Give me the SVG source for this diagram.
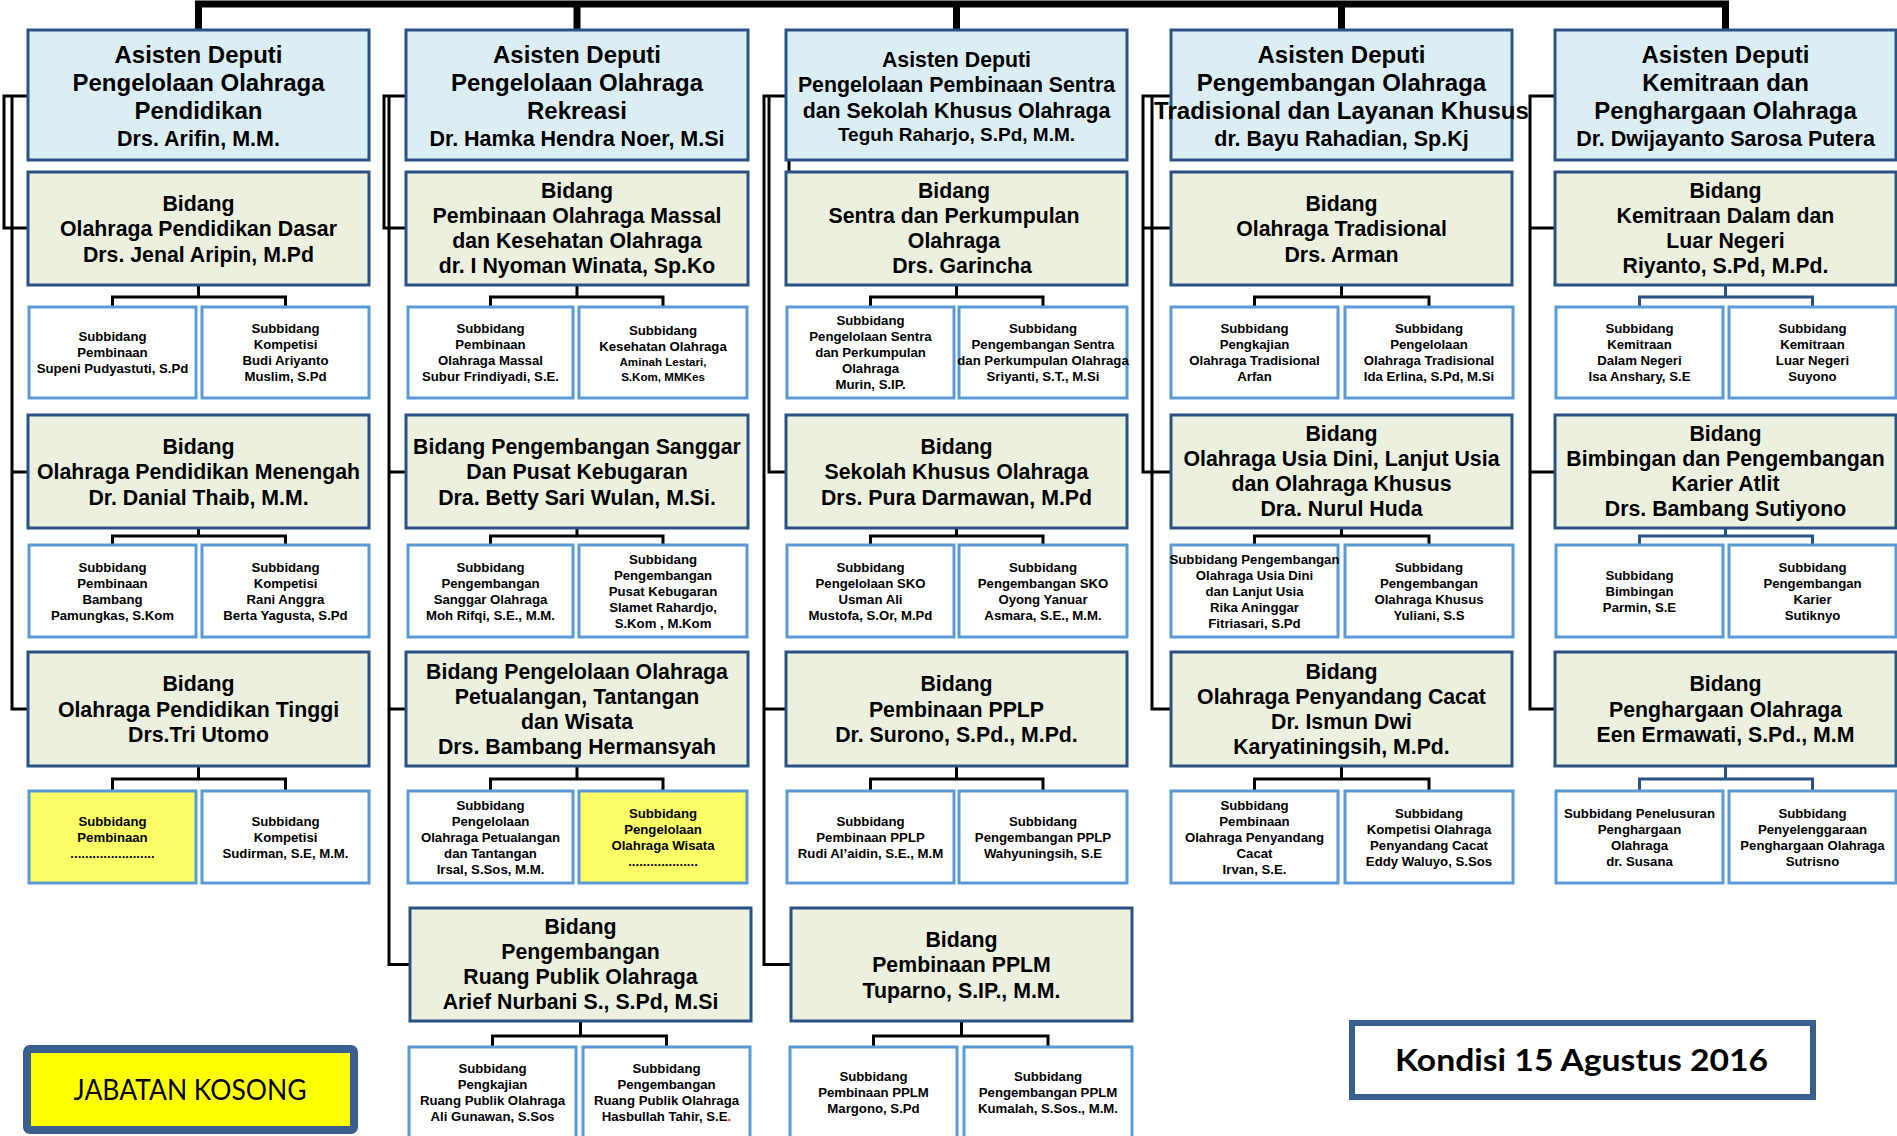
<svg xmlns="http://www.w3.org/2000/svg" width="1897" height="1136" viewBox="0 0 1897 1136">
<style>
.bg{fill:#fff}
.ad{fill:#DBEEF4;stroke:#2A5285;stroke-width:3}
.bd{fill:#EBF1DE;stroke:#2A5285;stroke-width:3}
.sb{fill:#fff;stroke:#5B9BD5;stroke-width:3}
.sy{fill:#FFFF66;stroke:#5B9BD5;stroke-width:3}
.cn{fill:none;stroke:#000;stroke-width:3}
.cb{fill:none;stroke:#2A5285;stroke-width:3}
.bus{fill:none;stroke:#000;stroke-width:7}
text{font-family:"Liberation Sans",Arial,sans-serif;font-weight:bold;text-anchor:middle;fill:#000}
.t24{font-size:24px}
.t21{font-size:21.3px}
.n{font-size:21.5px}
.n19{font-size:19px}
.ts{font-size:13.2px}
.tc{font-size:11.6px}
.red{fill:#FF0000}
.cal{font-family:Lato,"Open Sans",sans-serif}
</style>
<rect class="bg" x="0" y="0" width="1897" height="1136"/>

<g id="connectors">
<path class="bus" d="M195,4 H1729 M198.5,1 V30 M577,1 V30 M956.5,1 V30 M1341.5,1 V30 M1725.5,1 V30"/>
<path class="cn" d="M28,96 H4 V228 H28 M12,96 V709 H28 M12,472 H28"/>
<path class="cn" d="M406,96 H384 V228 H406 M389,96 V964.5 H410 M389,472 H406 M389,709 H406"/>
<path class="cn" d="M786,96 H764 V964.5 H791 M764,709 H786 M769,96 V472 H786 M789,160 V172"/>
<path class="cn" d="M1171,96 H1143 V472 H1171 M1143,228 H1171 M1152,96 V709 H1171"/>
<path class="cn" d="M1555,96 H1530 V709 H1555 M1530,228 H1555 M1530,472 H1555"/>
<path class="cn" d="M112.5,307 V297 H285.5 V307 M198.5,285 V297 M112.5,545 V536 H285.5 V545 M198.5,528 V536 M112.5,791 V779 H285.5 V791 M198.5,766 V779"/>
<path class="cn" d="M490.5,307 V297 H663 V307 M577,285 V297 M490.5,545 V536 H663 V545 M577,528 V536 M490.5,791 V779 H663 V791 M577,766 V779 M492.5,1047 V1036 H666.5 V1047 M580.5,1021 V1036"/>
<path class="cn" d="M870.5,307 V297 H1043 V307 M956.5,285 V297 M870.5,545 V536 H1043 V545 M956.5,528 V536 M870.5,791 V779 H1043 V791 M956.5,766 V779 M873.5,1047 V1036 H1048 V1047 M961.5,1021 V1036"/>
<path class="cn" d="M1254.5,307 V297 H1429 V307 M1341.5,285 V297 M1254.5,545 V536 H1429 V545 M1341.5,528 V536 M1254.5,791 V779 H1429 V791 M1341.5,766 V779"/>
<path class="cb" d="M1639.5,307 V297 H1812.5 V307 M1725.5,285 V297 M1639.5,545 V536 H1812.5 V545 M1725.5,528 V536 M1639.5,791 V779 H1812.5 V791 M1725.5,766 V779"/>
</g>

<!-- Column 1 -->
<g id="ad1"><rect class="ad" x="28" y="30" width="341" height="130"/>
<text class="t24"><tspan x="198.5" y="63">Asisten Deputi</tspan><tspan x="198.5" y="91">Pengelolaan Olahraga</tspan><tspan x="198.5" y="119">Pendidikan</tspan><tspan class="n" x="198.5" y="146">Drs. Arifin, M.M.</tspan></text></g>
<g id="b1-1"><rect class="bd" x="28" y="172" width="341" height="113"/>
<text class="t21"><tspan x="198.5" y="210.5">Bidang</tspan><tspan x="198.5" y="236">Olahraga Pendidikan Dasar</tspan><tspan x="198.5" y="261.5">Drs. Jenal Aripin, M.Pd</tspan></text></g>
<g id="s1-1a"><rect class="sb" x="29" y="307" width="167" height="91"/>
<text class="ts"><tspan x="112.5" y="341.1">Subbidang</tspan><tspan x="112.5" y="357.1">Pembinaan</tspan><tspan x="112.5" y="373.1">Supeni Pudyastuti, S.Pd</tspan></text></g>
<g id="s1-1b"><rect class="sb" x="202" y="307" width="167" height="91"/>
<text class="ts"><tspan x="285.5" y="333.1">Subbidang</tspan><tspan x="285.5" y="349.1">Kompetisi</tspan><tspan x="285.5" y="365.1">Budi Ariyanto</tspan><tspan x="285.5" y="381.1">Muslim, S.Pd</tspan></text></g>
<g id="b1-2"><rect class="bd" x="28" y="415" width="341" height="113"/>
<text class="t21"><tspan x="198.5" y="453.5">Bidang</tspan><tspan x="198.5" y="479">Olahraga Pendidikan Menengah</tspan><tspan x="198.5" y="504.5">Dr. Danial Thaib, M.M.</tspan></text></g>
<g id="s1-2a"><rect class="sb" x="29" y="545" width="167" height="92"/>
<text class="ts"><tspan x="112.5" y="571.6">Subbidang</tspan><tspan x="112.5" y="587.6">Pembinaan</tspan><tspan x="112.5" y="603.6">Bambang</tspan><tspan x="112.5" y="619.6">Pamungkas, S.Kom</tspan></text></g>
<g id="s1-2b"><rect class="sb" x="202" y="545" width="167" height="92"/>
<text class="ts"><tspan x="285.5" y="571.6">Subbidang</tspan><tspan x="285.5" y="587.6">Kompetisi</tspan><tspan x="285.5" y="603.6">Rani Anggra</tspan><tspan x="285.5" y="619.6">Berta Yagusta, S.Pd</tspan></text></g>
<g id="b1-3"><rect class="bd" x="28" y="652" width="341" height="114"/>
<text class="t21"><tspan x="198.5" y="691">Bidang</tspan><tspan x="198.5" y="716.5">Olahraga Pendidikan Tinggi</tspan><tspan x="198.5" y="742">Drs.Tri Utomo</tspan></text></g>
<g id="s1-3a"><rect class="sy" x="29" y="791" width="167" height="92"/>
<text class="ts"><tspan x="112.5" y="825.6">Subbidang</tspan><tspan x="112.5" y="841.6">Pembinaan</tspan><tspan x="112.5" y="857.6">.......................</tspan></text></g>
<g id="s1-3b"><rect class="sb" x="202" y="791" width="167" height="92"/>
<text class="ts"><tspan x="285.5" y="825.6">Subbidang</tspan><tspan x="285.5" y="841.6">Kompetisi</tspan><tspan x="285.5" y="857.6">Sudirman, S.E, M.M.</tspan></text></g>

<!-- Column 2 -->
<g id="ad2"><rect class="ad" x="406" y="30" width="342" height="130"/>
<text class="t24"><tspan x="577" y="63">Asisten Deputi</tspan><tspan x="577" y="91">Pengelolaan Olahraga</tspan><tspan x="577" y="119">Rekreasi</tspan><tspan class="n" x="577" y="146">Dr. Hamka Hendra Noer, M.Si</tspan></text></g>
<g id="b2-1"><rect class="bd" x="406" y="172" width="342" height="113"/>
<text class="t21"><tspan x="577" y="198">Bidang</tspan><tspan x="577" y="223">Pembinaan Olahraga Massal</tspan><tspan x="577" y="248">dan Kesehatan Olahraga</tspan><tspan x="577" y="273">dr. I Nyoman Winata, Sp.Ko</tspan></text></g>
<g id="s2-1a"><rect class="sb" x="408" y="307" width="165" height="91"/>
<text class="ts"><tspan x="490.5" y="333.1">Subbidang</tspan><tspan x="490.5" y="349.1">Pembinaan</tspan><tspan x="490.5" y="365.1">Olahraga Massal</tspan><tspan x="490.5" y="381.1">Subur Frindiyadi, S.E.</tspan></text></g>
<g id="s2-1b"><rect class="sb" x="579" y="307" width="168" height="91"/>
<text class="ts"><tspan x="663" y="335.1">Subbidang</tspan><tspan x="663" y="351.1">Kesehatan Olahraga</tspan><tspan class="tc" x="663" y="366.1">Aminah Lestari,</tspan><tspan class="tc" x="663" y="381.1">S.Kom, MMKes</tspan></text></g>
<g id="b2-2"><rect class="bd" x="406" y="415" width="342" height="113"/>
<text class="t21"><tspan x="577" y="453.5">Bidang Pengembangan Sanggar</tspan><tspan x="577" y="479">Dan Pusat Kebugaran</tspan><tspan x="577" y="504.5">Dra. Betty Sari Wulan, M.Si.</tspan></text></g>
<g id="s2-2a"><rect class="sb" x="408" y="545" width="165" height="92"/>
<text class="ts"><tspan x="490.5" y="571.6">Subbidang</tspan><tspan x="490.5" y="587.6">Pengembangan</tspan><tspan x="490.5" y="603.6">Sanggar Olahraga</tspan><tspan x="490.5" y="619.6">Moh Rifqi, S.E., M.M.</tspan></text></g>
<g id="s2-2b"><rect class="sb" x="579" y="545" width="168" height="92"/>
<text class="ts"><tspan x="663" y="563.6">Subbidang</tspan><tspan x="663" y="579.6">Pengembangan</tspan><tspan x="663" y="595.6">Pusat Kebugaran</tspan><tspan x="663" y="611.6">Slamet Rahardjo,</tspan><tspan x="663" y="627.6">S.Kom , M.Kom</tspan></text></g>
<g id="b2-3"><rect class="bd" x="406" y="652" width="342" height="114"/>
<text class="t21"><tspan x="577" y="678.5">Bidang Pengelolaan Olahraga</tspan><tspan x="577" y="703.5">Petualangan, Tantangan</tspan><tspan x="577" y="728.5">dan Wisata</tspan><tspan x="577" y="753.5">Drs. Bambang Hermansyah</tspan></text></g>
<g id="s2-3a"><rect class="sb" x="408" y="791" width="165" height="92"/>
<text class="ts"><tspan x="490.5" y="809.6">Subbidang</tspan><tspan x="490.5" y="825.6">Pengelolaan</tspan><tspan x="490.5" y="841.6">Olahraga Petualangan</tspan><tspan x="490.5" y="857.6">dan Tantangan</tspan><tspan x="490.5" y="873.6">Irsal, S.Sos, M.M.</tspan></text></g>
<g id="s2-3b"><rect class="sy" x="579" y="791" width="168" height="92"/>
<text class="ts"><tspan x="663" y="817.6">Subbidang</tspan><tspan x="663" y="833.6">Pengelolaan</tspan><tspan x="663" y="849.6">Olahraga Wisata</tspan><tspan x="663" y="865.6">...................</tspan></text></g>
<g id="b2-4"><rect class="bd" x="410" y="908" width="341" height="113"/>
<text class="t21"><tspan x="580.5" y="934">Bidang</tspan><tspan x="580.5" y="959">Pengembangan</tspan><tspan x="580.5" y="984">Ruang Publik Olahraga</tspan><tspan x="580.5" y="1009">Arief Nurbani S., S.Pd, M.Si</tspan></text></g>
<g id="s2-4a"><rect class="sb" x="409" y="1047" width="167" height="92"/>
<text class="ts"><tspan x="492.5" y="1072.6">Subbidang</tspan><tspan x="492.5" y="1088.6">Pengkajian</tspan><tspan x="492.5" y="1104.6">Ruang Publik Olahraga</tspan><tspan x="492.5" y="1120.6">Ali Gunawan, S.Sos</tspan></text></g>
<g id="s2-4b"><rect class="sb" x="583" y="1047" width="167" height="92"/>
<text class="ts"><tspan x="666.5" y="1072.6">Subbidang</tspan><tspan x="666.5" y="1088.6">Pengembangan</tspan><tspan x="666.5" y="1104.6">Ruang Publik Olahraga</tspan><tspan x="666.5" y="1120.6">Hasbullah Tahir, S.E<tspan class="red">.</tspan></tspan></text></g>

<!-- Column 3 -->
<g id="ad3"><rect class="ad" x="786" y="30" width="341" height="130"/>
<text class="t21"><tspan x="956.5" y="67">Asisten Deputi</tspan><tspan x="956.5" y="92">Pengelolaan Pembinaan Sentra</tspan><tspan x="956.5" y="118">dan Sekolah Khusus Olahraga</tspan><tspan class="n19" x="956.5" y="141">Teguh Raharjo, S.Pd, M.M.</tspan></text></g>
<g id="b3-1"><rect class="bd" x="786" y="172" width="341" height="113"/>
<text class="t21"><tspan x="954" y="198">Bidang</tspan><tspan x="954" y="223">Sentra dan Perkumpulan</tspan><tspan x="954" y="248">Olahraga</tspan><tspan x="962" y="273">Drs. Garincha</tspan></text></g>
<g id="s3-1a"><rect class="sb" x="787" y="307" width="167" height="91"/>
<text class="ts"><tspan x="870.5" y="325.1">Subbidang</tspan><tspan x="870.5" y="341.1">Pengelolaan Sentra</tspan><tspan x="870.5" y="357.1">dan Perkumpulan</tspan><tspan x="870.5" y="373.1">Olahraga</tspan><tspan x="870.5" y="389.1">Murin, S.IP.</tspan></text></g>
<g id="s3-1b"><rect class="sb" x="959" y="307" width="168" height="91"/>
<text class="ts"><tspan x="1043" y="333.1">Subbidang</tspan><tspan x="1043" y="349.1">Pengembangan Sentra</tspan><tspan x="1043" y="365.1">dan Perkumpulan Olahraga</tspan><tspan x="1043" y="381.1">Sriyanti, S.T., M.Si</tspan></text></g>
<g id="b3-2"><rect class="bd" x="786" y="415" width="341" height="113"/>
<text class="t21"><tspan x="956.5" y="453.5">Bidang</tspan><tspan x="956.5" y="479">Sekolah Khusus Olahraga</tspan><tspan x="956.5" y="504.5">Drs. Pura Darmawan, M.Pd</tspan></text></g>
<g id="s3-2a"><rect class="sb" x="787" y="545" width="167" height="92"/>
<text class="ts"><tspan x="870.5" y="571.6">Subbidang</tspan><tspan x="870.5" y="587.6">Pengelolaan SKO</tspan><tspan x="870.5" y="603.6">Usman Ali</tspan><tspan x="870.5" y="619.6">Mustofa, S.Or, M.Pd</tspan></text></g>
<g id="s3-2b"><rect class="sb" x="959" y="545" width="168" height="92"/>
<text class="ts"><tspan x="1043" y="571.6">Subbidang</tspan><tspan x="1043" y="587.6">Pengembangan SKO</tspan><tspan x="1043" y="603.6">Oyong Yanuar</tspan><tspan x="1043" y="619.6">Asmara, S.E., M.M.</tspan></text></g>
<g id="b3-3"><rect class="bd" x="786" y="652" width="341" height="114"/>
<text class="t21"><tspan x="956.5" y="691">Bidang</tspan><tspan x="956.5" y="716.5">Pembinaan PPLP</tspan><tspan x="956.5" y="742">Dr. Surono, S.Pd., M.Pd.</tspan></text></g>
<g id="s3-3a"><rect class="sb" x="787" y="791" width="167" height="92"/>
<text class="ts"><tspan x="870.5" y="825.6">Subbidang</tspan><tspan x="870.5" y="841.6">Pembinaan PPLP</tspan><tspan x="870.5" y="857.6">Rudi Al’aidin, S.E., M.M</tspan></text></g>
<g id="s3-3b"><rect class="sb" x="959" y="791" width="168" height="92"/>
<text class="ts"><tspan x="1043" y="825.6">Subbidang</tspan><tspan x="1043" y="841.6">Pengembangan PPLP</tspan><tspan x="1043" y="857.6">Wahyuningsih, S.E</tspan></text></g>
<g id="b3-4"><rect class="bd" x="791" y="908" width="341" height="113"/>
<text class="t21"><tspan x="961.5" y="946.5">Bidang</tspan><tspan x="961.5" y="972">Pembinaan PPLM</tspan><tspan x="961.5" y="997.5">Tuparno, S.IP., M.M.</tspan></text></g>
<g id="s3-4a"><rect class="sb" x="790" y="1047" width="167" height="92"/>
<text class="ts"><tspan x="873.5" y="1080.6">Subbidang</tspan><tspan x="873.5" y="1096.6">Pembinaan PPLM</tspan><tspan x="873.5" y="1112.6">Margono, S.Pd</tspan></text></g>
<g id="s3-4b"><rect class="sb" x="964" y="1047" width="168" height="92"/>
<text class="ts"><tspan x="1048" y="1080.6">Subbidang</tspan><tspan x="1048" y="1096.6">Pengembangan PPLM</tspan><tspan x="1048" y="1112.6">Kumalah, S.Sos., M.M.</tspan></text></g>

<!-- Column 4 -->
<g id="ad4"><rect class="ad" x="1171" y="30" width="341" height="130"/>
<text class="t24"><tspan x="1341.5" y="63">Asisten Deputi</tspan><tspan x="1341.5" y="91">Pengembangan Olahraga</tspan><tspan x="1341.5" y="119">Tradisional dan Layanan Khusus</tspan><tspan class="n" x="1341.5" y="146">dr. Bayu Rahadian, Sp.Kj</tspan></text></g>
<g id="b4-1"><rect class="bd" x="1171" y="172" width="341" height="113"/>
<text class="t21"><tspan x="1341.5" y="210.5">Bidang</tspan><tspan x="1341.5" y="236">Olahraga Tradisional</tspan><tspan x="1341.5" y="261.5">Drs. Arman</tspan></text></g>
<g id="s4-1a"><rect class="sb" x="1171" y="307" width="167" height="91"/>
<text class="ts"><tspan x="1254.5" y="333.1">Subbidang</tspan><tspan x="1254.5" y="349.1">Pengkajian</tspan><tspan x="1254.5" y="365.1">Olahraga Tradisional</tspan><tspan x="1254.5" y="381.1">Arfan</tspan></text></g>
<g id="s4-1b"><rect class="sb" x="1345" y="307" width="168" height="91"/>
<text class="ts"><tspan x="1429" y="333.1">Subbidang</tspan><tspan x="1429" y="349.1">Pengelolaan</tspan><tspan x="1429" y="365.1">Olahraga Tradisional</tspan><tspan x="1429" y="381.1">Ida Erlina, S.Pd, M.Si</tspan></text></g>
<g id="b4-2"><rect class="bd" x="1171" y="415" width="341" height="113"/>
<text class="t21"><tspan x="1341.5" y="441">Bidang</tspan><tspan x="1341.5" y="466">Olahraga Usia Dini, Lanjut Usia</tspan><tspan x="1341.5" y="491">dan Olahraga Khusus</tspan><tspan x="1341.5" y="516">Dra. Nurul Huda</tspan></text></g>
<g id="s4-2a"><rect class="sb" x="1171" y="545" width="167" height="92"/>
<text class="ts"><tspan x="1254.5" y="563.6">Subbidang Pengembangan</tspan><tspan x="1254.5" y="579.6">Olahraga Usia Dini</tspan><tspan x="1254.5" y="595.6">dan Lanjut Usia</tspan><tspan x="1254.5" y="611.6">Rika Aninggar</tspan><tspan x="1254.5" y="627.6">Fitriasari, S.Pd</tspan></text></g>
<g id="s4-2b"><rect class="sb" x="1345" y="545" width="168" height="92"/>
<text class="ts"><tspan x="1429" y="571.6">Subbidang</tspan><tspan x="1429" y="587.6">Pengembangan</tspan><tspan x="1429" y="603.6">Olahraga Khusus</tspan><tspan x="1429" y="619.6">Yuliani, S.S</tspan></text></g>
<g id="b4-3"><rect class="bd" x="1171" y="652" width="341" height="114"/>
<text class="t21"><tspan x="1341.5" y="678.5">Bidang</tspan><tspan x="1341.5" y="703.5">Olahraga Penyandang Cacat</tspan><tspan x="1341.5" y="728.5">Dr. Ismun Dwi</tspan><tspan x="1341.5" y="753.5">Karyatiningsih, M.Pd.</tspan></text></g>
<g id="s4-3a"><rect class="sb" x="1171" y="791" width="167" height="92"/>
<text class="ts"><tspan x="1254.5" y="809.6">Subbidang</tspan><tspan x="1254.5" y="825.6">Pembinaan</tspan><tspan x="1254.5" y="841.6">Olahraga Penyandang</tspan><tspan x="1254.5" y="857.6">Cacat</tspan><tspan x="1254.5" y="873.6">Irvan, S.E.</tspan></text></g>
<g id="s4-3b"><rect class="sb" x="1345" y="791" width="168" height="92"/>
<text class="ts"><tspan x="1429" y="817.6">Subbidang</tspan><tspan x="1429" y="833.6">Kompetisi Olahraga</tspan><tspan x="1429" y="849.6">Penyandang Cacat</tspan><tspan x="1429" y="865.6">Eddy Waluyo, S.Sos</tspan></text></g>

<!-- Column 5 -->
<g id="ad5"><rect class="ad" x="1555" y="30" width="341" height="130"/>
<text class="t24"><tspan x="1725.5" y="63">Asisten Deputi</tspan><tspan x="1725.5" y="91">Kemitraan dan</tspan><tspan x="1725.5" y="119">Penghargaan Olahraga</tspan><tspan class="n" x="1725.5" y="146">Dr. Dwijayanto Sarosa Putera</tspan></text></g>
<g id="b5-1"><rect class="bd" x="1555" y="172" width="341" height="113"/>
<text class="t21"><tspan x="1725.5" y="198">Bidang</tspan><tspan x="1725.5" y="223">Kemitraan Dalam dan</tspan><tspan x="1725.5" y="248">Luar Negeri</tspan><tspan x="1725.5" y="273">Riyanto, S.Pd, M.Pd.</tspan></text></g>
<g id="s5-1a"><rect class="sb" x="1556" y="307" width="167" height="91"/>
<text class="ts"><tspan x="1639.5" y="333.1">Subbidang</tspan><tspan x="1639.5" y="349.1">Kemitraan</tspan><tspan x="1639.5" y="365.1">Dalam Negeri</tspan><tspan x="1639.5" y="381.1">Isa Anshary, S.E</tspan></text></g>
<g id="s5-1b"><rect class="sb" x="1729" y="307" width="167" height="91"/>
<text class="ts"><tspan x="1812.5" y="333.1">Subbidang</tspan><tspan x="1812.5" y="349.1">Kemitraan</tspan><tspan x="1812.5" y="365.1">Luar Negeri</tspan><tspan x="1812.5" y="381.1">Suyono</tspan></text></g>
<g id="b5-2"><rect class="bd" x="1555" y="415" width="341" height="113"/>
<text class="t21"><tspan x="1725.5" y="441">Bidang</tspan><tspan x="1725.5" y="466">Bimbingan dan Pengembangan</tspan><tspan x="1725.5" y="491">Karier Atlit</tspan><tspan x="1725.5" y="516">Drs. Bambang Sutiyono</tspan></text></g>
<g id="s5-2a"><rect class="sb" x="1556" y="545" width="167" height="92"/>
<text class="ts"><tspan x="1639.5" y="579.6">Subbidang</tspan><tspan x="1639.5" y="595.6">Bimbingan</tspan><tspan x="1639.5" y="611.6">Parmin, S.E</tspan></text></g>
<g id="s5-2b"><rect class="sb" x="1729" y="545" width="167" height="92"/>
<text class="ts"><tspan x="1812.5" y="571.6">Subbidang</tspan><tspan x="1812.5" y="587.6">Pengembangan</tspan><tspan x="1812.5" y="603.6">Karier</tspan><tspan x="1812.5" y="619.6">Sutiknyo</tspan></text></g>
<g id="b5-3"><rect class="bd" x="1555" y="652" width="341" height="114"/>
<text class="t21"><tspan x="1725.5" y="691">Bidang</tspan><tspan x="1725.5" y="716.5">Penghargaan Olahraga</tspan><tspan x="1725.5" y="742">Een Ermawati, S.Pd., M.M</tspan></text></g>
<g id="s5-3a"><rect class="sb" x="1556" y="791" width="167" height="92"/>
<text class="ts"><tspan x="1639.5" y="817.6">Subbidang Penelusuran</tspan><tspan x="1639.5" y="833.6">Penghargaan</tspan><tspan x="1639.5" y="849.6">Olahraga</tspan><tspan x="1639.5" y="865.6">dr. Susana</tspan></text></g>
<g id="s5-3b"><rect class="sb" x="1729" y="791" width="167" height="92"/>
<text class="ts"><tspan x="1812.5" y="817.6">Subbidang</tspan><tspan x="1812.5" y="833.6">Penyelenggaraan</tspan><tspan x="1812.5" y="849.6">Penghargaan Olahraga</tspan><tspan x="1812.5" y="865.6">Sutrisno</tspan></text></g>

<!-- Legend and date -->
<g id="legend"><rect x="27" y="1049" width="327" height="81" rx="3" fill="#FFFF00" stroke="#3A5F8F" stroke-width="8"/>
<text class="cal" x="190" y="1100" style="font-weight:normal;font-size:28px" textLength="233" lengthAdjust="spacingAndGlyphs">JABATAN KOSONG</text></g>
<g id="kondisi"><rect x="1352" y="1023" width="461" height="74" fill="#fff" stroke="#3A5F8F" stroke-width="6"/>
<text class="cal" x="1581.5" y="1071" style="font-size:31px" textLength="373" lengthAdjust="spacingAndGlyphs">Kondisi 15 Agustus 2016</text></g>
</svg>
